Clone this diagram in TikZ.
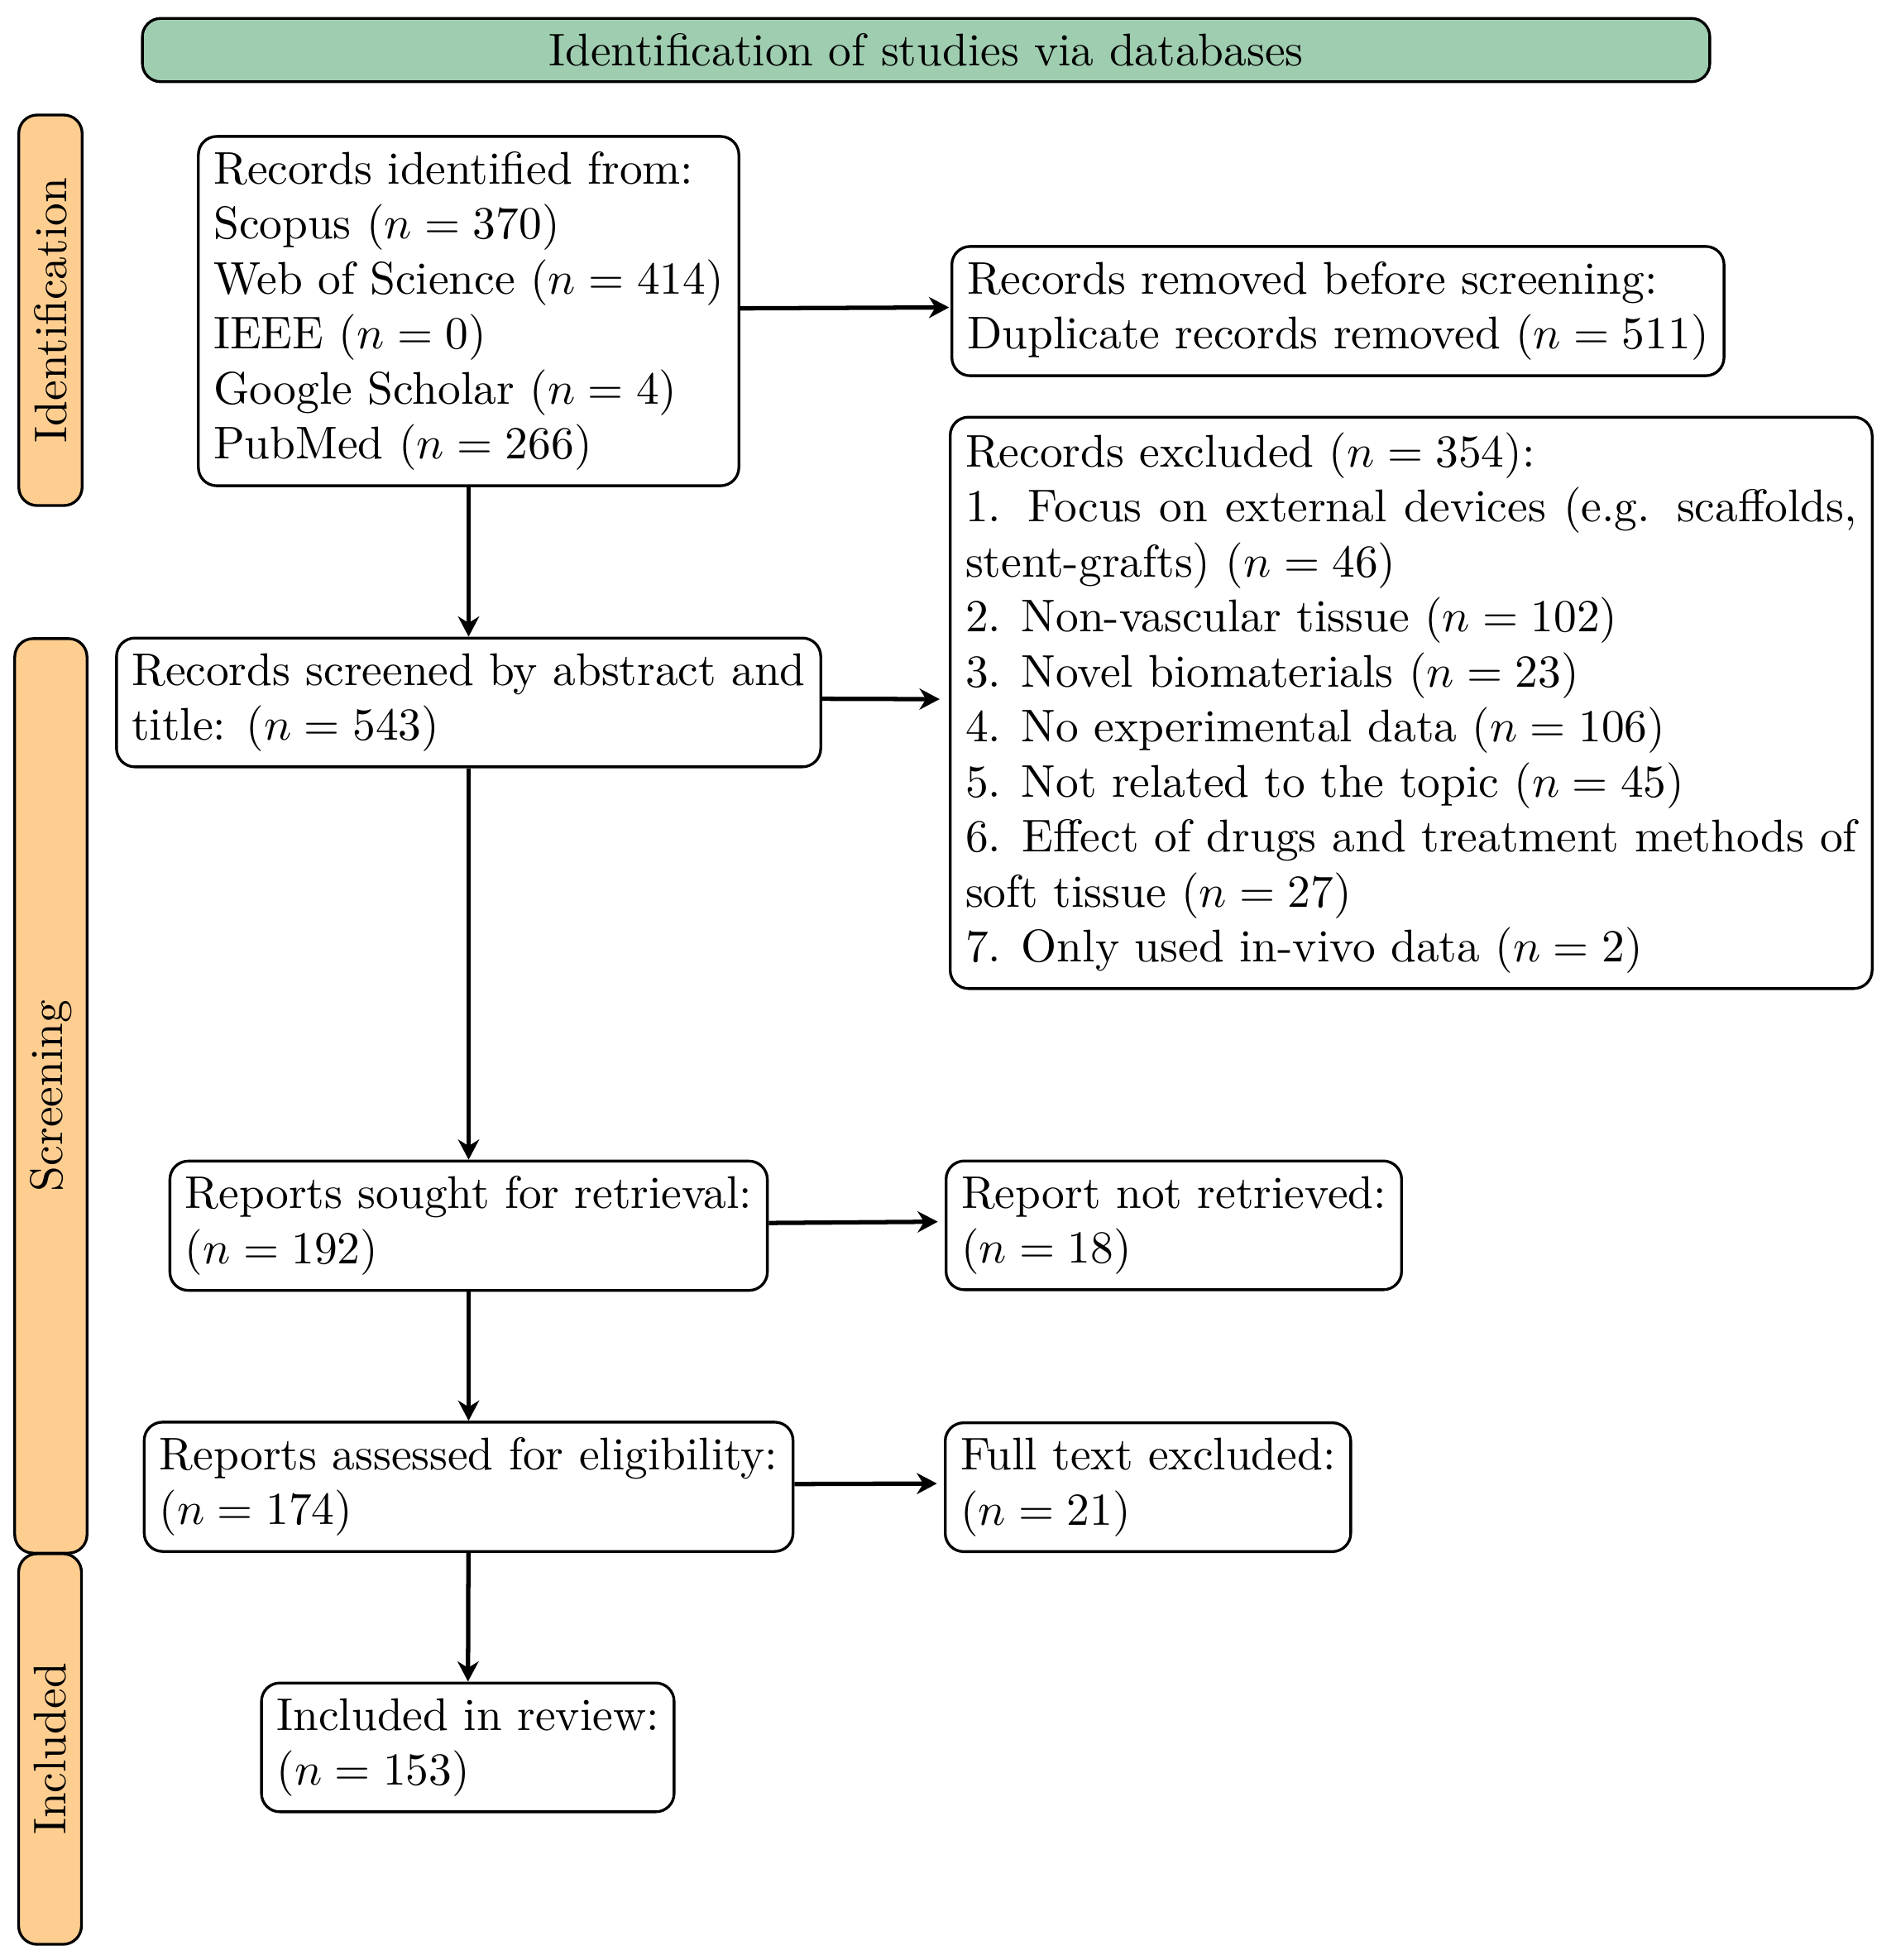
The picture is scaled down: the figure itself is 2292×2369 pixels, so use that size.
\documentclass[tikz,border=0pt]{standalone}
\usetikzlibrary{arrows.meta}
\definecolor{headgreen}{RGB}{159,205,176}
\definecolor{sideorange}{RGB}{254,206,145}
\begin{document}
\begin{tikzpicture}[x=0.1805pt,y=-0.1805pt,
  box/.style={draw,line width=0.6pt,rounded corners=4pt,align=left,inner sep=3.33pt},
  wbox/.style={draw,line width=0.6pt,rounded corners=4pt,inner sep=3.33pt,align=justify},
  sidebox/.style={draw,line width=0.6pt,rounded corners=4pt,fill=sideorange,rotate=90,inner sep=3.33pt},
  headbox/.style={draw,line width=0.6pt,rounded corners=4pt,fill=headgreen,inner sep=3.33pt},
  arr/.style={line width=0.95pt,-{Stealth[length=4.4pt,width=4.6pt,inset=1.4pt]}}]
\useasboundingbox (0,0) rectangle (2292,2369);
% header
\node[headbox,minimum width=342pt] (head) at (1119.5,60.5) {Identification of studies via databases};
% side labels
\node[sidebox,minimum width=85.2pt] (sideI) at (61,375) {Identification};
\node[sidebox,minimum width=199.5pt] (sideS) at (61.5,1324.5) {Screening};
\node[sidebox,minimum width=85.2pt] (sideN) at (60.5,2114) {Included};
% main column
\node[box] (ident) at (566.5,376) {Records identified from:\\
Scopus ($n=370$)\\
Web of Science ($n=414$)\\
IEEE ($n=0$)\\
Google Scholar ($n=4$)\\
PubMed ($n=266$)};
\node[wbox,text width=147pt] (screen) at (566.5,849) {Records screened by abstract and title: ($n=543$)};
\node[box] (sought) at (566.5,1481.5) {Reports sought for retrieval:\\($n=192$)};
\node[box] (assess) at (566.5,1797) {Reports assessed for eligibility:\\($n=174$)};
\node[box] (incl) at (565.5,2112) {Included in review:\\($n=153$)};
% right column
\node[box,anchor=west] (removed) at (1149,376) {Records removed before screening:\\Duplicate records removed ($n=511$)};
\node[wbox,text width=194.5pt,anchor=west] (excl) at (1147,849.5) {Records excluded ($n=354$):\\
1. Focus on external devices (e.g. scaffolds, stent-grafts) ($n=46$)\\
2. Non-vascular tissue ($n=102$)\\
3. Novel biomaterials ($n=23$)\\
4. No experimental data ($n=106$)\\
5. Not related to the topic ($n=45$)\\
6. Effect of drugs and treatment methods of soft tissue ($n=27$)\\
7. Only used in-vivo data ($n=2$)};
\node[box,anchor=west] (notret) at (1142,1481) {Report not retrieved:\\($n=18$)};
\node[box,anchor=west] (fullex) at (1141,1797.5) {Full text excluded:\\($n=21$)};
% arrows
\draw[arr] (ident) -- (screen);
\draw[arr] (screen) -- (sought);
\draw[arr] (sought) -- (assess);
\draw[arr] (assess) -- (incl);
\draw[arr,shorten >=0.3pt] ([yshift=0.6pt]ident.east) -- ([yshift=0.8pt]removed.west);
\draw[arr,shorten >=2pt] ([yshift=0.8pt]screen.east) -- ([yshift=0.8pt]excl.west);
\draw[arr,shorten >=1.5pt] ([yshift=0.6pt]sought.east) -- ([yshift=0.8pt]notret.west);
\draw[arr,shorten >=1.5pt] ([yshift=0.6pt]assess.east) -- ([yshift=0.8pt]fullex.west);
\end{tikzpicture}
\end{document}
